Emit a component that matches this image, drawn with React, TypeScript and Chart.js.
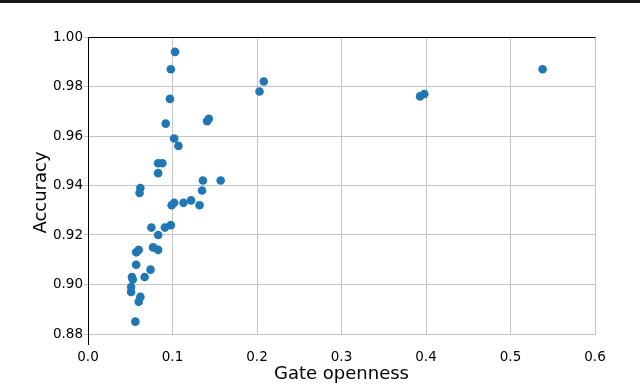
import React, { useEffect, useRef } from "react";
import { Chart, registerables } from "chart.js";

Chart.register(...registerables);

const gateOpenness = [
  0.103, 0.098, 0.097, 0.092, 0.141, 0.143, 0.102, 0.107, 0.083, 0.088,
  0.083, 0.136, 0.157, 0.062, 0.061, 0.135, 0.099, 0.102, 0.113, 0.122,
  0.132, 0.098, 0.091, 0.075, 0.083, 0.077, 0.083, 0.060, 0.057, 0.057,
  0.074, 0.052, 0.053, 0.067, 0.051, 0.051, 0.062, 0.060, 0.056, 0.208,
  0.203, 0.393, 0.398, 0.538,
];
const accuracy = [
  0.994, 0.987, 0.975, 0.965, 0.966, 0.967, 0.959, 0.956, 0.949, 0.949,
  0.945, 0.942, 0.942, 0.939, 0.937, 0.938, 0.932, 0.933, 0.933, 0.934,
  0.932, 0.924, 0.923, 0.923, 0.920, 0.915, 0.914, 0.914, 0.913, 0.908,
  0.906, 0.903, 0.902, 0.903, 0.899, 0.897, 0.895, 0.893, 0.885, 0.982,
  0.978, 0.976, 0.977, 0.987,
];
const xTitle = "Gate openness";
const yTitle = "Accuracy";

const FONT = "'DejaVu Sans', sans-serif";

const frame = {
  id: "frame",
  afterDraw(chart: any) {
    const { ctx, chartArea } = chart;
    ctx.save();
    ctx.fillStyle = "#1a1a1a";
    ctx.fillRect(0, 0, chart.width, 3);
    ctx.strokeStyle = "#000";
    ctx.lineWidth = 1;
    const t = Math.round(chartArea.top) + 0.5;
    const l = Math.round(chartArea.left) + 0.5;
    ctx.beginPath();
    ctx.moveTo(chartArea.left, t);
    ctx.lineTo(chartArea.right + 0.5, t);
    ctx.moveTo(l, chartArea.top);
    ctx.lineTo(l, chartArea.bottom + 11);
    ctx.stroke();
    // y axis title
    ctx.translate(41, 192.5);
    ctx.rotate(-Math.PI / 2);
    ctx.fillStyle = "#000";
    ctx.font = `18px ${FONT}`;
    ctx.textAlign = "center";
    ctx.textBaseline = "middle";
    ctx.fillText(yTitle, 0, 0);
    ctx.restore();
  },
};

export default function App() {
  const ref = useRef<HTMLCanvasElement | null>(null);
  useEffect(() => {
    if (!ref.current) return;
    const data = gateOpenness.map((x, i) => ({ x, y: accuracy[i] }));
    const chart = new Chart(ref.current, {
      type: "scatter",
      data: {
        datasets: [
          {
            data,
            backgroundColor: "#1f77b4",
            borderWidth: 0,
            pointRadius: 4.3,
            pointHoverRadius: 4.3,
          },
        ],
      },
      options: {
        animation: false,
        responsive: false,
        devicePixelRatio: 1,
        layout: { padding: { top: 37, right: 45, left: 0, bottom: 0 } },
        plugins: { legend: { display: false }, tooltip: { enabled: false } },
        scales: {
          x: {
            type: "linear",
            min: 0,
            max: 0.6,
            afterFit: (s: any) => {
              s.height = 51;
            },
            ticks: {
              stepSize: 0.1,
              padding: 15,
              color: "#000",
              font: { family: FONT, size: 13.5 },
              callback: (v: any) => Number(v).toFixed(1),
            },
            grid: { color: "#c4c4c4", lineWidth: 1, drawTicks: false },
            border: { display: true, color: "#c4c4c4" },
            title: {
              display: true,
              text: xTitle,
              color: "#000",
              font: { family: FONT, size: 18 },
              padding: { top: 0, bottom: 0 },
            },
          },
          y: {
            type: "linear",
            min: 0.88,
            max: 1.0,
            afterFit: (s: any) => {
              s.width = 88;
            },
            ticks: {
              stepSize: 0.02,
              padding: 1,
              color: "#000",
              font: { family: FONT, size: 13.5 },
              callback: (v: any) => Number(v).toFixed(2),
            },
            grid: { color: "#c4c4c4", lineWidth: 1, drawTicks: true, tickLength: 4 },
            border: { display: true, color: "#000" },
            title: { display: false },
          },
        },
      },
      plugins: [frame],
    });
    return () => chart.destroy();
  }, []);
  return (
    <div style={{ position: "fixed", left: 0, top: 0, width: 640, height: 385, background: "#fff" }}>
      <canvas ref={ref} width={640} height={385} style={{ display: "block" }} />
    </div>
  );
}
